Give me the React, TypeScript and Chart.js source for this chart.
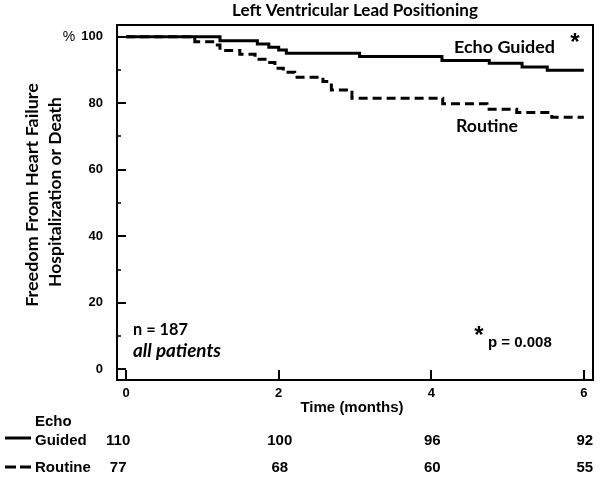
import React, { useEffect, useRef } from 'react';
import { Chart, registerables } from 'chart.js';

Chart.register(...registerables);

// ---- data ----
const echoTimes = [0, 1.23, 1.72, 1.87, 2.0, 2.1, 3.06, 4.14, 4.76, 5.19, 5.52, 6.0];
const echoSurvival = [100, 98.8, 97.8, 96.8, 96.0, 95.0, 94.0, 92.8, 92.0, 90.9, 89.9, 89.9];
const routineTimes = [0, 0.9, 1.17, 1.23, 1.49, 1.69, 1.86, 1.95, 2.06, 2.21, 2.58, 2.69, 2.96, 4.15, 4.73, 5.12, 5.58, 6.0];
const routineSurvival = [100, 98.5, 97.5, 95.8, 94.7, 93.2, 92.2, 90.5, 89.3, 87.8, 86.5, 84.0, 81.5, 79.8, 78.2, 77.2, 75.8, 75.8];

const xTickValues = [0, 2, 4, 6];
const yMajorTicks = [0, 20, 40, 60, 80, 100];
const yMinorTicks = [10, 30, 50, 70, 90];

const riskTimes = [0, 2, 4, 6];
const echoAtRisk = [110, 100, 96, 92];
const routineAtRisk = [77, 68, 60, 55];

const titleText = 'Left Ventricular Lead Positioning';
const yTitleLines = ['Freedom From Heart Failure', 'Hospitalization or Death'];
const xTitleText = 'Time (months)';
const echoLabel = 'Echo Guided';
const routineLabel = 'Routine';
const nText = 'n = 187';
const cohortText = 'all patients';
const pText = 'p = 0.008';

const CAL = 'Lato, "Open Sans", sans-serif';
const ARI = '"Liberation Sans", Arial, sans-serif';

function fitFont(ctx: CanvasRenderingContext2D, text: string, weight: string, family: string, width: number, style = 'normal') {
  ctx.font = `${style} ${weight} 100px ${family}`;
  const w = ctx.measureText(text).width;
  const size = (100 * width) / w;
  ctx.font = `${style} ${weight} ${size.toFixed(2)}px ${family}`;
  return size;
}

const decorPlugin = {
  id: 'decor',
  afterDatasetsDraw(chart: any) {
    const ctx: CanvasRenderingContext2D = chart.ctx;
    const { left, right, top, bottom } = chart.chartArea;
    const xs = chart.scales.x;
    const ys = chart.scales.y;
    ctx.save();
    ctx.strokeStyle = '#000';
    ctx.fillStyle = '#000';

    // frame
    ctx.lineWidth = 2;
    ctx.strokeRect(left, top, right - left, bottom - top);

    // y ticks (inward)
    ctx.lineWidth = 2;
    yMajorTicks.forEach((v) => {
      const y = Math.round(ys.getPixelForValue(v));
      ctx.beginPath();
      ctx.moveTo(left, y);
      ctx.lineTo(left + 9, y);
      ctx.stroke();
    });
    ctx.lineWidth = 1.5;
    yMinorTicks.forEach((v) => {
      const y = Math.round(ys.getPixelForValue(v));
      ctx.beginPath();
      ctx.moveTo(left, y);
      ctx.lineTo(left + 4, y);
      ctx.stroke();
    });
    // x ticks (inward)
    ctx.lineWidth = 2;
    xTickValues.forEach((v) => {
      const x = Math.round(xs.getPixelForValue(v));
      ctx.beginPath();
      ctx.moveTo(x, bottom);
      ctx.lineTo(x, bottom - 10);
      ctx.stroke();
    });

    const cx = (left + right) / 2;

    // title
    ctx.textAlign = 'center';
    ctx.textBaseline = 'alphabetic';
    fitFont(ctx, titleText, 'bold', CAL, 246);
    ctx.fillText(titleText, cx, 16);

    // y axis title
    ctx.save();
    ctx.translate(32, 195);
    ctx.rotate(-Math.PI / 2);
    ctx.textBaseline = 'middle';
    fitFont(ctx, yTitleLines[0], 'bold', CAL, 224);
    ctx.fillText(yTitleLines[0], 0, 0);
    ctx.restore();
    ctx.save();
    ctx.translate(55, 192);
    ctx.rotate(-Math.PI / 2);
    ctx.textBaseline = 'middle';
    fitFont(ctx, yTitleLines[1], 'bold', CAL, 190);
    ctx.fillText(yTitleLines[1], 0, 0);
    ctx.restore();

    // percent sign
    ctx.textAlign = 'center';
    ctx.textBaseline = 'middle';
    ctx.font = `normal 14px ${ARI}`;
    ctx.fillText('%', 69, ys.getPixelForValue(100));

    // x axis title
    ctx.font = `bold 15px ${ARI}`;
    ctx.textBaseline = 'middle';
    ctx.fillText(xTitleText, cx - 3, 408);

    // in-plot labels
    ctx.textAlign = 'left';
    ctx.textBaseline = 'alphabetic';
    fitFont(ctx, echoLabel, 'bold', CAL, 101);
    ctx.fillText(echoLabel, 454, 53);
    fitFont(ctx, routineLabel, 'bold', CAL, 62);
    ctx.fillText(routineLabel, 456, 132);
    fitFont(ctx, nText, 'bold', CAL, 55);
    ctx.fillText(nText, 133, 335);
    fitFont(ctx, cohortText, 'bold', CAL, 88, 'italic');
    ctx.fillText(cohortText, 133, 357);

    ctx.font = `bold 15px ${ARI}`;
    ctx.fillText(pText, 488, 347);
    ctx.font = `bold 24px ${ARI}`;
    ctx.textAlign = 'center';
    ctx.fillText('*', 479, 343);
    ctx.fillText('*', 575, 50);

    // numbers at risk table
    ctx.textBaseline = 'middle';
    ctx.font = `bold 15px ${ARI}`;
    ctx.textAlign = 'left';
    ctx.fillText('Echo', 35, 422);
    ctx.fillText('Guided', 35, 441);
    ctx.fillText('Routine', 35, 468);
    ctx.textAlign = 'center';
    riskTimes.forEach((t, i) => {
      const x = xs.getPixelForValue(t) + (i === 0 ? -8 : 1);
      ctx.fillText(String(echoAtRisk[i]), x, 441);
      ctx.fillText(String(routineAtRisk[i]), x, 468);
    });

    // legend keys
    ctx.lineWidth = 3;
    ctx.beginPath();
    ctx.moveTo(5, 438);
    ctx.lineTo(31, 438);
    ctx.stroke();
    ctx.beginPath();
    ctx.moveTo(5, 467);
    ctx.lineTo(16, 467);
    ctx.moveTo(20, 467);
    ctx.lineTo(31, 467);
    ctx.stroke();

    ctx.restore();
  },
};

export default function App() {
  const ref = useRef<HTMLCanvasElement | null>(null);
  useEffect(() => {
    if (!ref.current) return;
    const chart = new Chart(ref.current, {
      type: 'line',
      data: {
        datasets: [
          {
            label: echoLabel,
            data: echoTimes.map((t, i) => ({ x: t, y: echoSurvival[i] })),
            borderColor: '#000',
            borderWidth: 3,
            stepped: 'before',
            pointRadius: 0,
            fill: false,
          },
          {
            label: routineLabel,
            data: routineTimes.map((t, i) => ({ x: t, y: routineSurvival[i] })),
            borderColor: '#000',
            borderWidth: 3,
            borderDash: [9, 5],
            stepped: 'before',
            pointRadius: 0,
            fill: false,
          },
        ],
      },
      options: {
        responsive: false,
        animation: false,
        events: [],
        layout: { padding: { left: 0, top: 25, right: 7, bottom: 0 } },
        plugins: { legend: { display: false }, title: { display: false }, tooltip: { enabled: false } },
        scales: {
          x: {
            type: 'linear',
            min: -0.12,
            max: 6.12,
            grid: { display: false, drawTicks: false },
            border: { display: false },
            afterBuildTicks: (s: any) => {
              s.ticks = xTickValues.map((v) => ({ value: v }));
            },
            afterFit: (s: any) => {
              s.height = 98;
            },
            ticks: {
              color: '#000',
              padding: 6,
              maxRotation: 0,
              font: { family: '"Liberation Sans", Arial, sans-serif', weight: 'bold', size: 13 },
            },
          },
          y: {
            type: 'linear',
            min: -3.2,
            max: 103.5,
            grid: { display: false, drawTicks: false },
            border: { display: false },
            afterBuildTicks: (s: any) => {
              s.ticks = yMajorTicks.map((v) => ({ value: v }));
            },
            afterFit: (s: any) => {
              s.width = 117;
            },
            ticks: {
              color: '#000',
              padding: 14,
              font: { family: '"Liberation Sans", Arial, sans-serif', weight: 'bold', size: 13 },
            },
          },
        },
      },
      plugins: [decorPlugin],
    } as any);
    return () => chart.destroy();
  }, []);
  return (
    <div style={{ position: 'absolute', left: 0, top: 0, width: 600, height: 478, background: '#fff' }}>
      <canvas ref={ref} width={600} height={478} />
    </div>
  );
}
